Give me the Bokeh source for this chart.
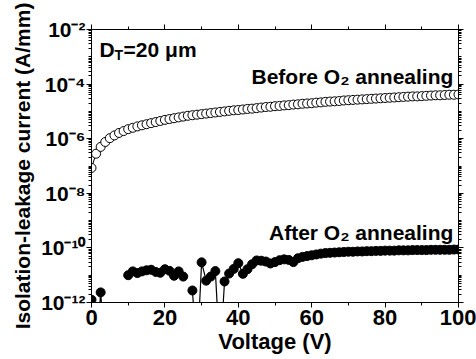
import math
from bokeh.plotting import figure
from bokeh.models import FixedTicker, LogAxis, LinearAxis, Label, Range1d, ColumnDataSource, Title
from bokeh.embed import file_html
from bokeh.resources import INLINE

# ---------------- data ----------------
voltage_step = 1.25
n_points = 81
voltage = [i * voltage_step for i in range(n_points)]

# log10 of current (A/mm)
before_log = [
    -7.07, -6.55, -6.30, -6.12, -5.98, -5.88, -5.79, -5.72, -5.65, -5.60,
    -5.55, -5.51, -5.47, -5.43, -5.39, -5.35, -5.31, -5.28, -5.25, -5.22,
    -5.19, -5.16, -5.14, -5.12, -5.10, -5.08, -5.06, -5.04, -5.02, -5.00,
    -4.98, -4.96, -4.95, -4.93, -4.91, -4.90, -4.88, -4.86, -4.84, -4.83,
    -4.81, -4.80, -4.78, -4.77, -4.75, -4.74, -4.72, -4.71, -4.70, -4.68,
    -4.67, -4.65, -4.64, -4.63, -4.62, -4.60, -4.59, -4.58, -4.57, -4.56,
    -4.55, -4.54, -4.53, -4.52, -4.51, -4.50, -4.49, -4.48, -4.47, -4.46,
    -4.45, -4.45, -4.44, -4.43, -4.42, -4.41, -4.41, -4.40, -4.39, -4.39,
    -4.38,
]
NA = float("nan")
after_log = [
    -11.90, -14.0, -11.63, -14.0, NA, NA, NA, NA, -11.00, -10.86,
    -10.92, -10.86, -10.82, -10.80, -10.88, -10.91, -10.78, -10.84, -11.02, -10.86,
    -11.05, NA, -11.56, -14.0, -10.53, -11.20, -11.05, -10.85, -14.0, -11.23,
    -10.94, -10.77, -10.56, -10.95, -10.78, -10.60, -10.46, -10.47, -10.50, -10.57,
    -10.52, -10.45, -10.42, -10.44, -10.52, -10.38, -10.33, -10.30, -10.27, -10.24,
    -10.21, -10.19, -10.18, -10.17, -10.16, -10.15, -10.14, -10.14, -10.13, -10.13,
    -10.12, -10.12, -10.11, -10.11, -10.10, -10.10, -10.10, -10.09, -10.09, -10.09,
    -10.08, -10.08, -10.08, -10.08, -10.07, -10.07, -10.07, -10.07, -10.07, -10.06,
    -10.06,
]

before_current = [10 ** v for v in before_log]
after_current = [10 ** v if not math.isnan(v) else NA for v in after_log]

x_ticks = [0, 20, 40, 60, 80, 100]
x_minor = [10, 30, 50, 70, 90]
y_exponents = [-12, -10, -8, -6, -4, -2]
y_tick_labels = ["10\u207b\u00b9\u00b2", "10\u207b\u00b9\u2070", "10\u207b\u2078",
                 "10\u207b\u2076", "10\u207b\u2074", "10\u207b\u00b2"]

x_title = "Voltage (V)"
y_title = "Isolation-leakage current (A/mm)"

FONT = "Liberation Sans"

# ---------------- figure ----------------
p = figure(width=476, height=359, y_axis_type="log",
           x_range=Range1d(0, 100), y_range=Range1d(1e-12, 1e-2),
           output_backend="svg", toolbar_location=None,
           min_border_left=91, min_border_right=18,
           min_border_top=29, min_border_bottom=57)
p.xgrid.visible = False
p.ygrid.visible = False
p.outline_line_color = "black"
p.outline_line_width = 1
p.background_fill_color = "white"
p.border_fill_color = "white"

y_major = [10.0 ** e for e in y_exponents]
y_minor = []
for e in range(-12, -2):
    for k in range(2, 10):
        y_minor.append(k * 10.0 ** e)
for e in range(-11, -2, 2):
    y_minor.append(10.0 ** e)

yticker = FixedTicker(ticks=y_major, minor_ticks=y_minor)
xticker = FixedTicker(ticks=x_ticks, minor_ticks=x_minor)

def style_axis(ax, labels=True):
    ax.axis_line_color = "black"
    ax.axis_line_width = 1
    ax.major_tick_line_color = "black"
    ax.minor_tick_line_color = "black"
    ax.major_tick_out = 5
    ax.major_tick_in = 0
    ax.minor_tick_out = 3
    ax.minor_tick_in = 0
    ax.major_label_text_font = FONT
    ax.major_label_text_font_style = "bold"
    ax.major_label_text_color = "black"
    ax.axis_label_text_font = FONT
    ax.axis_label_text_font_style = "bold"
    ax.axis_label_text_color = "black"
    if not labels:
        ax.major_label_text_font_size = "0px"
        ax.major_label_text_alpha = 0

xa = p.xaxis[0]
xa.ticker = xticker
style_axis(xa)
xa.major_label_text_font_size = "22px"
xa.major_label_standoff = 2
xa.axis_label = x_title
xa.axis_label_text_font_size = "22px"
xa.axis_label_standoff = 1

ya = p.yaxis[0]
ya.ticker = yticker
style_axis(ya)
ya.major_label_text_font_size = "21px"
ya.major_label_standoff = 1
ya.major_label_overrides = {t: lab for t, lab in zip(y_major, y_tick_labels)}

top_ax = LinearAxis(ticker=xticker)
style_axis(top_ax, labels=False)
p.add_layout(top_ax, "above")
right_ax = LogAxis(ticker=yticker)
style_axis(right_ax, labels=False)
p.add_layout(right_ax, "right")

ytitle = Title(text=y_title, align="center", offset=10,
               text_font=FONT, text_font_style="bold", text_font_size="21px",
               text_color="black")
p.add_layout(ytitle, "left")

# ---------------- data glyphs ----------------
src_b = ColumnDataSource(dict(v=voltage, i=before_current))
src_a = ColumnDataSource(dict(v=voltage, i=after_current))

p.line("v", "i", source=src_b, line_color="black", line_width=1)
p.scatter("v", "i", source=src_b, size=9, marker="circle",
          fill_color="white", line_color="black", line_width=1)
p.line("v", "i", source=src_a, line_color="black", line_width=1.2)
p.scatter("v", "i", source=src_a, size=9, marker="circle",
          fill_color="black", line_color="black", line_width=1)

# ---------------- texts ----------------
def lab(text, x, y, size="21px", y_offset=6, **kw):
    l = Label(text=text, x=x, y=y, text_font=FONT, text_font_style="bold",
              text_font_size=size, text_color="black", y_offset=y_offset, **kw)
    p.add_layout(l)
    return l

lab("D", 2.2, 10 ** -2.95, text_align="left", text_baseline="alphabetic")
lab("T", 2.2, 10 ** -2.95, size="14px", x_offset=15, y_offset=0,
    text_align="left", text_baseline="alphabetic")
lab("=20 \u03bcm", 2.2, 10 ** -2.95, x_offset=24,
    text_align="left", text_baseline="alphabetic")

lab("Before O\u2082 annealing", 98.6, 10 ** -3.94,
    text_align="right", text_baseline="alphabetic")
lab("After O\u2082 annealing", 98.6, 10 ** -9.66,
    text_align="right", text_baseline="alphabetic")

open("out.html", "w").write(file_html(p, INLINE))
